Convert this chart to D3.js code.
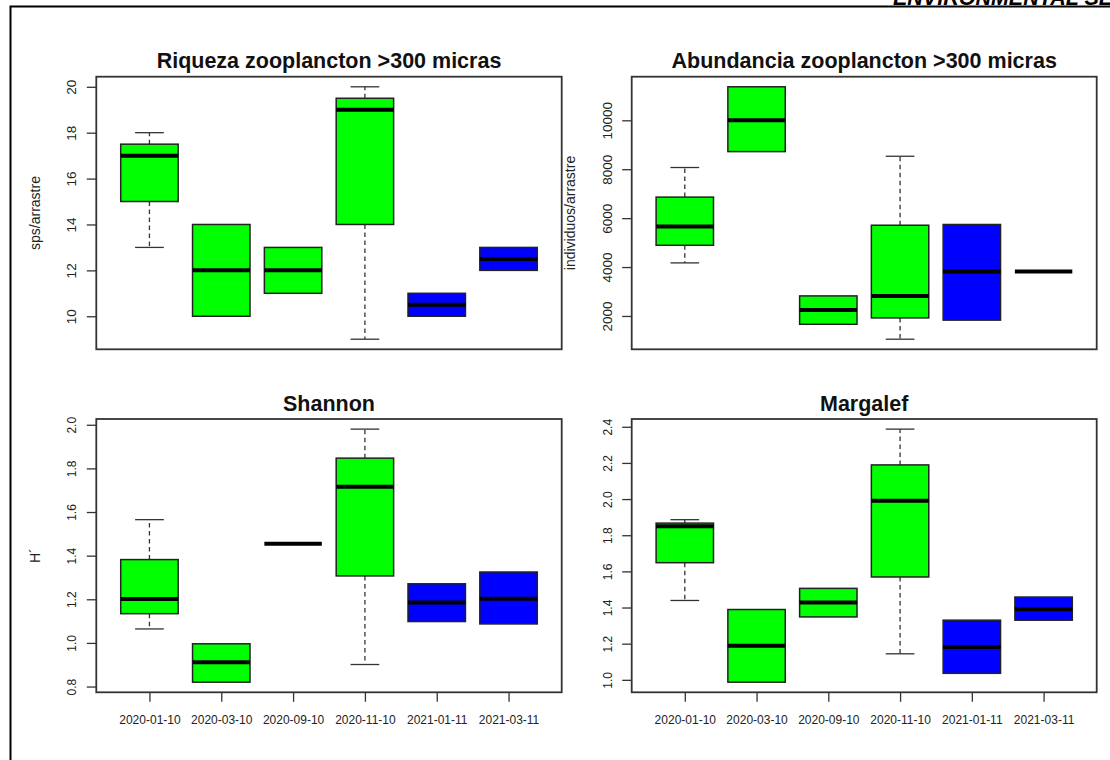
<!DOCTYPE html>
<html>
<head>
<meta charset="utf-8">
<script src="https://cdn.jsdelivr.net/npm/d3@7"></script>
<style>
  html, body { margin: 0; padding: 0; background: #fff; }
  svg { display: block; font-family: "Liberation Sans", Arial, sans-serif; }
</style>
</head>
<body>
<svg id="chart" width="1110" height="760"></svg>
<script>
// Sampling dates (one box per date)
const categories = ["2020-01-10", "2020-03-10", "2020-09-10", "2020-11-10", "2021-01-11", "2021-03-11"];
const boxFill = ["#00ff00", "#00ff00", "#00ff00", "#00ff00", "#0000ff", "#0000ff"];

// Five-number summaries per date: [lower whisker, Q1, median, Q3, upper whisker]
const riqueza = [
  [13, 15, 17, 17.5, 18],
  [10, 10, 12, 14, 14],
  [11, 11, 12, 13, 13],
  [9, 14, 19, 19.5, 20],
  [10, 10, 10.5, 11, 11],
  [12, 12, 12.5, 13, 13]
];
const abundancia = [
  [4170, 4890, 5660, 6860, 8070],
  [8720, 8720, 10000, 11370, 11370],
  [1660, 1660, 2240, 2820, 2820],
  [1050, 1920, 2820, 5710, 8530],
  [1830, 1830, 3815, 5740, 5740],
  [3815, 3815, 3815, 3815, 3815]
];
const shannon = [
  [1.064, 1.134, 1.201, 1.382, 1.565],
  [0.82, 0.82, 0.911, 0.996, 0.996],
  [1.454, 1.454, 1.454, 1.454, 1.454],
  [0.901, 1.307, 1.716, 1.847, 1.98],
  [1.098, 1.098, 1.185, 1.271, 1.271],
  [1.087, 1.087, 1.203, 1.325, 1.325]
];
const margalef = [
  [1.439, 1.648, 1.85, 1.867, 1.886],
  [0.987, 0.987, 1.189, 1.389, 1.389],
  [1.348, 1.348, 1.428, 1.506, 1.506],
  [1.144, 1.569, 1.991, 2.189, 2.387],
  [1.036, 1.036, 1.182, 1.33, 1.33],
  [1.33, 1.33, 1.391, 1.458, 1.458]
];

// Axis tick values
const riquezaTicks = [10, 12, 14, 16, 18, 20];
const abundanciaTicks = [2000, 4000, 6000, 8000, 10000];
const shannonTicks = [0.8, 1.0, 1.2, 1.4, 1.6, 1.8, 2.0];
const margalefTicks = [1.0, 1.2, 1.4, 1.6, 1.8, 2.0, 2.2, 2.4];

const svg = d3.select("#chart");

// Page frame and running header
svg.append("path")
  .attr("d", "M10.5,760 V6.5 H1110")
  .attr("fill", "none").attr("stroke", "#000").attr("stroke-width", 2);
svg.append("text")
  .attr("x", 893).attr("y", 4.5)
  .attr("font-size", 21.5).attr("font-weight", "bold").attr("font-style", "italic")
  .text("ENVIRONMENTAL SE");

const panels = [
  { title: "Riqueza zooplancton >300 micras", ylab: "sps/arrastre", stats: riqueza, ticks: riquezaTicks,
    fmt: d3.format("d"), x0: 96.3, x1: 561.7, y0: 76.7, y1: 349.3, xaxis: false, fs: 13.5 },
  { title: "Abundancia zooplancton >300 micras", ylab: "individuos/arrastre", stats: abundancia, ticks: abundanciaTicks,
    fmt: d3.format("d"), x0: 631.7, x1: 1096.7, y0: 76.7, y1: 349.3, xaxis: false, fs: 13.5 },
  { title: "Shannon", ylab: "H´", stats: shannon, ticks: shannonTicks,
    fmt: d3.format(".1f"), x0: 96.3, x1: 561.7, y0: 419, y1: 692.3, xaxis: true, fs: 12 },
  { title: "Margalef", ylab: null, stats: margalef, ticks: margalefTicks,
    fmt: d3.format(".1f"), x0: 631.7, x1: 1096.7, y0: 419, y1: 692.3, xaxis: true, fs: 12 }
];

panels.forEach(p => {
  const g = svg.append("g");
  const n = p.stats.length;
  const rows = p.stats.map((s, i) => ({ pos: i + 1, fill: boxFill[i], lw: s[0], q1: s[1], med: s[2], q3: s[3], uw: s[4] }));

  // R-style axis range: data extent padded by 4% on each side
  const lo = d3.min(rows, r => r.lw);
  const hi = d3.max(rows, r => r.uw);
  const pad = (hi - lo) * 0.04;
  const y = d3.scaleLinear().domain([lo - pad, hi + pad]).range([p.y1, p.y0]);
  const xpad = n * 0.04;
  const x = d3.scaleLinear().domain([0.5 - xpad, n + 0.5 + xpad]).range([p.x0, p.x1]);
  const bw = x(0.8) - x(0);

  // Y axis with labels parallel to the axis
  const yAxis = g.append("g")
    .attr("transform", `translate(${p.x0},0)`)
    .call(d3.axisLeft(y).tickValues(p.ticks).tickFormat(p.fmt).tickSize(9.5));
  yAxis.select(".domain").remove();
  yAxis.selectAll(".tick line").attr("stroke", "#333").attr("stroke-width", 1.3);
  yAxis.selectAll(".tick text")
    .attr("x", null).attr("dy", null)
    .attr("transform", "translate(-20,0) rotate(-90)")
    .attr("text-anchor", "middle")
    .attr("fill", "#222")
    .attr("font-size", p.fs)
    .attr("font-family", "Liberation Sans, Arial, sans-serif");

  if (p.xaxis) {
    const xAxis = g.append("g")
      .attr("transform", `translate(0,${p.y1})`)
      .call(d3.axisBottom(x).tickValues(d3.range(1, n + 1)).tickFormat(i => categories[i - 1]).tickSize(9.5));
    xAxis.select(".domain").remove();
    xAxis.selectAll(".tick line").attr("stroke", "#333").attr("stroke-width", 1.3);
    xAxis.selectAll(".tick text")
      .attr("y", 31.7).attr("dy", null)
      .attr("fill", "#222")
      .attr("font-size", 12)
      .attr("font-family", "Liberation Sans, Arial, sans-serif");
  }

  const items = g.append("g").selectAll("g").data(rows).join("g");

  // Whiskers (dashed) and staples
  const upper = items.filter(d => d.uw > d.q3);
  const lower = items.filter(d => d.q1 > d.lw);
  upper.append("line")
    .attr("x1", d => x(d.pos)).attr("x2", d => x(d.pos))
    .attr("y1", d => y(d.q3)).attr("y2", d => y(d.uw))
    .attr("stroke", "#333").attr("stroke-width", 1.3).attr("stroke-dasharray", "4.5,3.5");
  lower.append("line")
    .attr("x1", d => x(d.pos)).attr("x2", d => x(d.pos))
    .attr("y1", d => y(d.q1)).attr("y2", d => y(d.lw))
    .attr("stroke", "#333").attr("stroke-width", 1.3).attr("stroke-dasharray", "4.5,3.5");
  upper.append("line")
    .attr("x1", d => x(d.pos) - bw / 4).attr("x2", d => x(d.pos) + bw / 4)
    .attr("y1", d => y(d.uw)).attr("y2", d => y(d.uw))
    .attr("stroke", "#333").attr("stroke-width", 1.3);
  lower.append("line")
    .attr("x1", d => x(d.pos) - bw / 4).attr("x2", d => x(d.pos) + bw / 4)
    .attr("y1", d => y(d.lw)).attr("y2", d => y(d.lw))
    .attr("stroke", "#333").attr("stroke-width", 1.3);

  // Boxes (Q1 to Q3)
  items.filter(d => d.q3 > d.q1).append("rect")
    .attr("x", d => x(d.pos) - bw / 2)
    .attr("width", bw)
    .attr("y", d => y(d.q3))
    .attr("height", d => y(d.q1) - y(d.q3))
    .attr("fill", d => d.fill)
    .attr("stroke", "#222").attr("stroke-width", 1.5);

  // Medians
  items.append("line")
    .attr("x1", d => x(d.pos) - bw / 2).attr("x2", d => x(d.pos) + bw / 2)
    .attr("y1", d => y(d.med)).attr("y2", d => y(d.med))
    .attr("stroke", "#000").attr("stroke-width", 4);

  // Plot frame
  g.append("rect")
    .attr("x", p.x0).attr("y", p.y0)
    .attr("width", p.x1 - p.x0).attr("height", p.y1 - p.y0)
    .attr("fill", "none").attr("stroke", "#333").attr("stroke-width", 1.8);

  // Title
  g.append("text")
    .attr("x", (p.x0 + p.x1) / 2).attr("y", p.y0 - 8.3)
    .attr("text-anchor", "middle")
    .attr("font-size", 21.5).attr("font-weight", "bold")
    .attr("fill", "#111")
    .text(p.title);

  // Y axis title
  if (p.ylab) {
    g.append("text")
      .attr("transform", `translate(${p.x0 - 56.5},${(p.y0 + p.y1) / 2}) rotate(-90)`)
      .attr("text-anchor", "middle")
      .attr("font-size", 14)
      .attr("fill", "#222")
      .text(p.ylab);
  }
});
</script>
</body>
</html>
